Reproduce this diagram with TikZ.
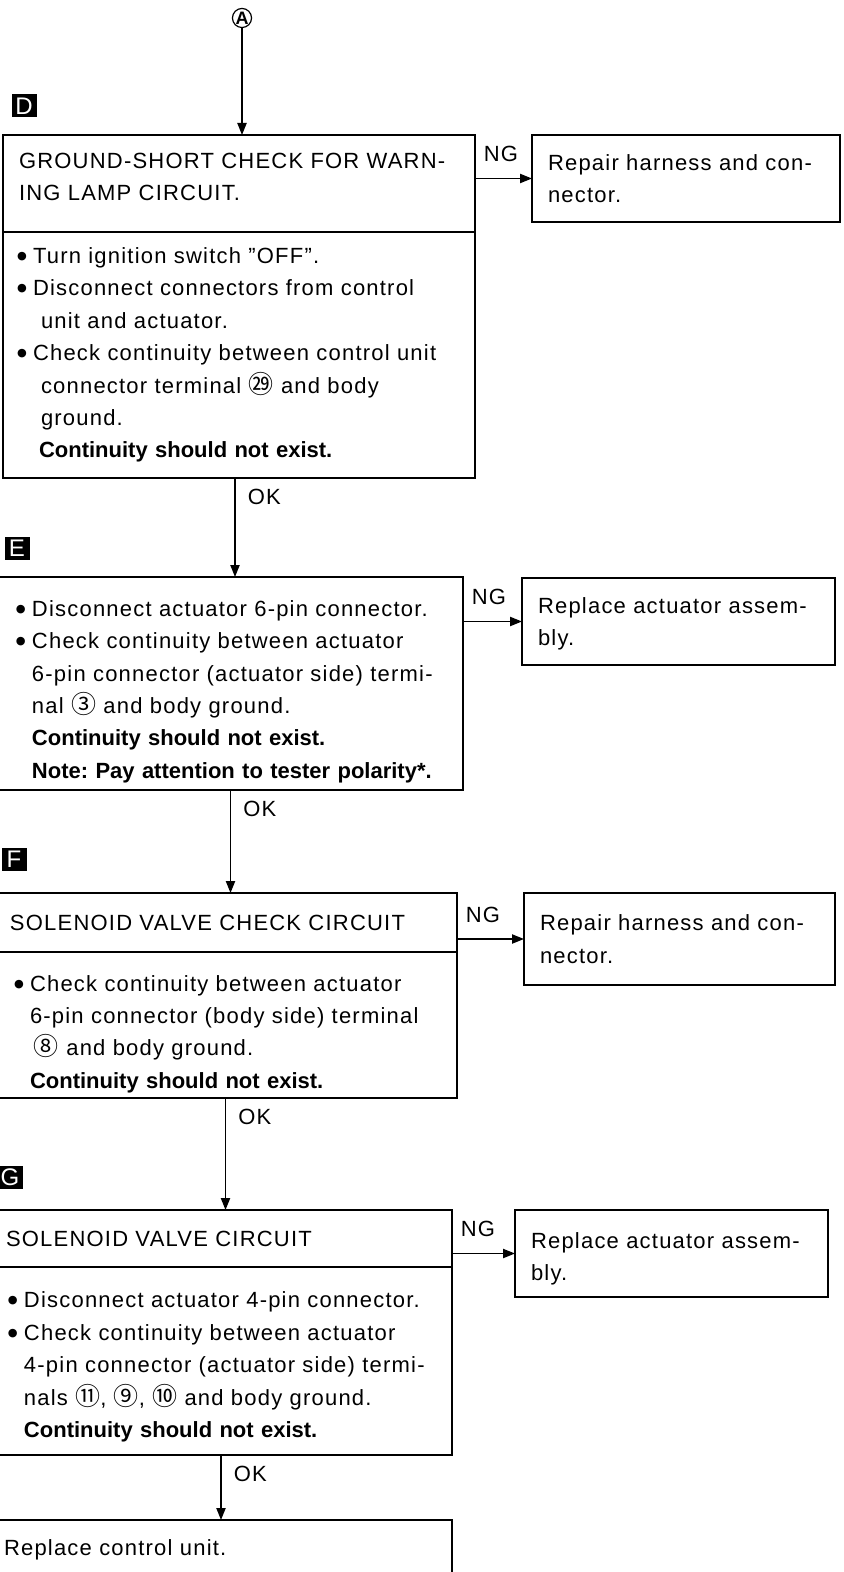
\documentclass[tikz,border=0pt]{standalone}
\usepackage{fontspec}
\setmainfont{Liberation Sans}[LetterSpace=5.5,BoldFeatures={LetterSpace=0}]
\newfontfamily\cjk{Noto Sans CJK SC}
\newfontfamily\dejavu{DejaVu Sans}
\usetikzlibrary{arrows.meta,positioning,calc}

\newcommand\bul[1][8pt]{\makebox[#1][l]{\raisebox{2pt}{\dejavu\fontsize{5.6}{5.6}\selectfont ●}}}
\newcommand\ind[1][7pt]{\hspace*{#1}}
\newcommand\cn[1]{{\cjk\fontsize{12.5}{10}\selectfont #1}}

\begin{document}
\frenchspacing
\begin{tikzpicture}[
  x=0.5pt, y=-0.5pt,
  font=\fontsize{11}{16.2}\selectfont, >={Triangle[length=6pt,width=4.6pt]},
  box/.style={draw,line width=1pt,anchor=north west,align=left,
    inner xsep=8pt,inner ysep=0pt,outer sep=0pt},
  tag/.style={fill=black,text=white,minimum width=12.5pt,minimum height=11.5pt,
    inner sep=0pt,font=\fontsize{12}{12}\selectfont},
  arr/.style={->,line width=.75pt},
  ng/.style={anchor=south west,pos=0,xshift=4pt,yshift=8pt,inner sep=0pt},
  ok/.style={anchor=north west,pos=0,xshift=6pt,yshift=-5pt,inner sep=0pt}
]
\useasboundingbox (0,0) rectangle (843,1572);
\clip (0,0) rectangle (843,1572);

\node[circle,draw,line width=.6pt,inner sep=.2pt,
  font=\bfseries\fontsize{9}{9}\selectfont] (ca) at (242,18) {A};

% D
\node[tag] (tagd) at (24,106) {D};
\node[box,minimum width=236pt,minimum height=48.5pt,text width=220pt,text height=1pt] (dhead) at (3,135)
 {GROUND-SHORT CHECK FOR WARN-\\ING LAMP CIRCUIT.};
\node[box,minimum width=236pt,minimum height=123pt,text width=220pt] (dbody) at (dhead.south west)
 {\ind[-1pt]\bul Turn ignition switch "OFF".\\
  \ind[-1pt]\bul Disconnect connectors from control\\
  \ind[11pt]unit and actuator.\\
  \ind[-1pt]\bul Check continuity between control unit\\
  \ind[11pt]connector terminal \cn{㉙} and body\\
  \ind[11pt]ground.\\
  \ind[10pt]\textbf{Continuity should not exist.}};
\node[box,minimum width=154pt,minimum height=43.5pt,text width=138pt] (dng) at (532,135)
 {Repair harness and con-\\nector.};

\draw[arr] (ca) -- (ca |- dhead.north);
\draw[arr] (dng.west -| dhead.east) -- node[ng]{NG} (dng.west);

% E
\node[tag] (tage) at (17,548) {E};
\node[box,minimum width=232.5pt,minimum height=106.5pt,text width=216.5pt,text height=16pt] (ebody) at (-2,577)
 {\ind[1pt]\bul Disconnect actuator 6-pin connector.\\
  \ind[1pt]\bul Check continuity between actuator\\
  \ind[9pt]6-pin connector (actuator side) termi-\\
  \ind[9pt]nal \cn{③} and body ground.\\
  \ind[9pt]\textbf{Continuity should not exist.}\\
  \ind[9pt]\textbf{Note: Pay attention to tester polarity*.}};
\node[box,minimum width=156.5pt,minimum height=43.5pt,text width=140.5pt,text height=10pt] (eng) at (522,578)
 {Replace actuator assem-\\bly.};

\draw[arr] ([xshift=-2pt]dbody.south) -- node[ok]{OK} ([xshift=-2pt]dbody.south |- ebody.north);
\draw[arr] (eng.west -| ebody.east) -- node[ng]{NG} (eng.west);

% F
\node[tag] (tagf) at (14,859) {F};
\node[box,minimum width=231.5pt,minimum height=29.5pt,text width=215.5pt] (fhead) at (-6,893)
 {SOLENOID VALVE CHECK CIRCUIT};
\node[box,minimum width=231.5pt,minimum height=73pt,text width=215.5pt,text height=17pt] (fbody) at (fhead.south west)
 {\ind[2pt]\bul Check continuity between actuator\\
  \ind[10pt]6-pin connector (body side) terminal\\
  \ind[12pt]\cn{⑧} and body ground.\\
  \ind[10pt]\textbf{Continuity should not exist.}};
\node[box,minimum width=155.5pt,minimum height=46pt,text width=139.5pt] (fng) at (524,893)
 {Repair harness and con-\\nector.};

\draw[arr] (ebody.south) -- node[ok]{OK} (ebody.south |- fhead.north);
\draw[arr] (fng.west -| fhead.east) -- node[ng]{NG} (fng.west);

% G
\node[tag] (tagg) at (10,1177) {G};
\node[box,minimum width=231pt,minimum height=28.5pt,text width=215pt] (ghead) at (-10,1210)
 {SOLENOID VALVE CIRCUIT};
\node[box,minimum width=231pt,minimum height=94pt,text width=215pt,text height=14pt] (gbody) at (ghead.south west)
 {\ind[1pt]\bul Disconnect actuator 4-pin connector.\\
  \ind[1pt]\bul Check continuity between actuator\\
  \ind[9pt]4-pin connector (actuator side) termi-\\
  \ind[9pt]nals \cn{⑪}, \cn{⑨}, \cn{⑩} and body ground.\\
  \ind[9pt]\textbf{Continuity should not exist.}};
\node[box,minimum width=156.5pt,minimum height=43.5pt,text width=140.5pt,text height=13pt] (gng) at (515,1210)
 {Replace actuator assem-\\bly.};

\draw[arr] (fbody.south) -- node[ok]{OK} (fbody.south |- ghead.north);
\draw[arr] (gng.west -| ghead.east) -- node[ng]{NG} (gng.west);

% last step
\node[box,minimum width=232pt,minimum height=30pt,text width=216pt] (repl) at (-12,1520)
 {Replace control unit.};
\draw[arr] (gbody.south) -- node[ok]{OK} (gbody.south |- repl.north);
\end{tikzpicture}
\end{document}
